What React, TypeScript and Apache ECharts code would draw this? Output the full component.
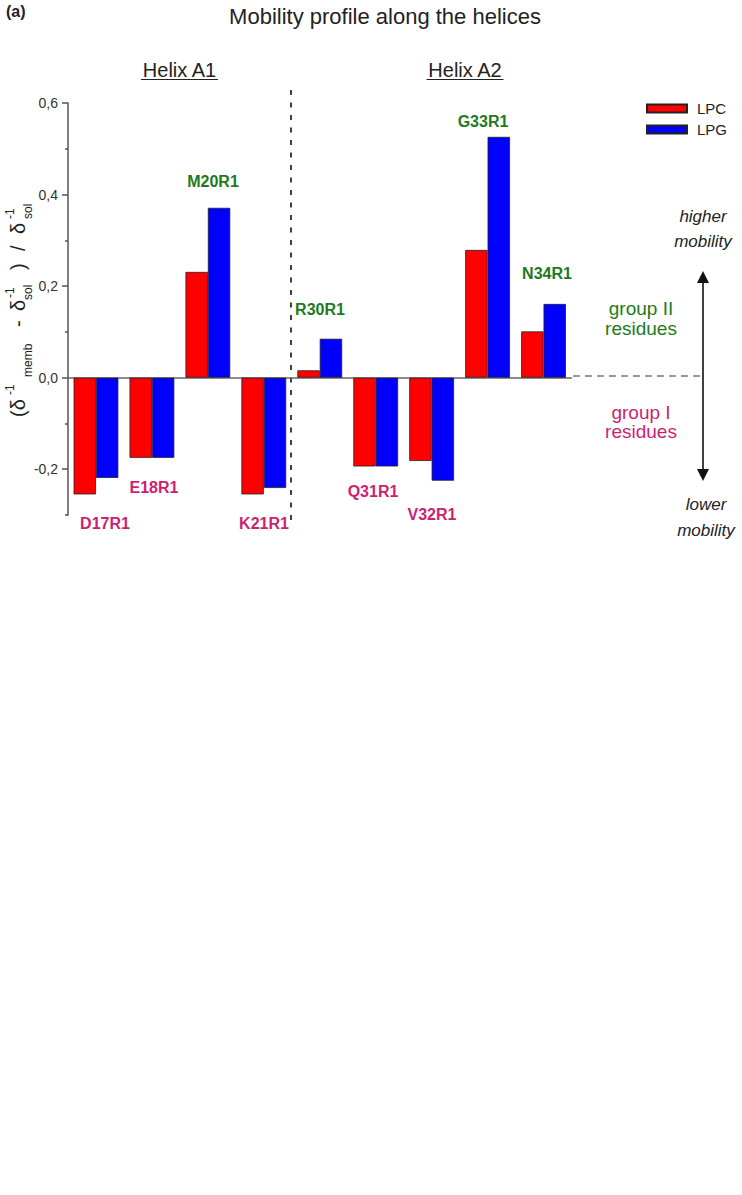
import React, { useEffect, useRef } from "react";
import * as echarts from "echarts";

const categories = ["D17R1", "E18R1", "M20R1", "K21R1", "R30R1", "Q31R1", "V32R1", "G33R1", "N34R1"];
const lpc = [-0.255, -0.175, 0.231, -0.255, 0.016, -0.194, -0.182, 0.279, 0.101];
const lpg = [-0.219, -0.175, 0.371, -0.241, 0.085, -0.194, -0.225, 0.526, 0.161];
const majorTicks = [-0.2, 0, 0.2, 0.4, 0.6];
const minorTicks = [-0.3, -0.1, 0.1, 0.3, 0.5];
const groupOf = ["I", "I", "II", "I", "II", "I", "I", "II", "II"];

const FONT = "'Liberation Sans', Arial, sans-serif";
const GREEN = "#1d7a1d";
const MAGENTA = "#cc1f73";

// annotation positions for residue labels (px)
const labelPos: [number, number][] = [
  [105, 523], [154, 487], [213, 181], [264, 523], [320, 309],
  [373, 491], [432, 514], [483, 121], [547, 273],
];

export default function App() {
  const ref = useRef<HTMLDivElement>(null);
  useEffect(() => {
    if (!ref.current) return;
    const chart = echarts.init(ref.current, null, { renderer: "svg" });

    const residueTexts = categories.map((c, i) => ({
      type: "text",
      x: labelPos[i][0],
      y: labelPos[i][1],
      style: {
        text: c,
        fill: groupOf[i] === "II" ? GREEN : MAGENTA,
        font: `bold 16px ${FONT}`,
        align: "center",
        verticalAlign: "middle",
      },
    }));

    const sup = 10, sub = 28, main = 18;
    const yTitle = {
      type: "group",
      x: 0,
      y: 417,
      rotation: Math.PI / 2,
      children: [
        { t: "(δ", x: 0, y: main, f: 20 },
        { t: "-1", x: 22, y: sup, f: 12 },
        { t: "memb", x: 40, y: sub, f: 12 },
        { t: "-", x: 90, y: main, f: 20 },
        { t: "δ", x: 106, y: main, f: 20 },
        { t: "-1", x: 119, y: sup, f: 12 },
        { t: "sol", x: 117, y: sub, f: 12 },
        { t: ")", x: 147, y: main, f: 20 },
        { t: "/", x: 166, y: main, f: 20 },
        { t: "δ", x: 183, y: main, f: 20 },
        { t: "-1", x: 198, y: sup, f: 12 },
        { t: "sol", x: 198, y: sub, f: 12 },
      ].map((p) => ({
        type: "text",
        x: p.x,
        y: p.y,
        style: {
          text: p.t,
          fill: "#222",
          font: `${p.f}px ${FONT}`,
          align: "left",
          verticalAlign: "middle",
        },
      })),
    };

    const t = (text: string, x: number, y: number, font: string, fill = "#222") => ({
      type: "text",
      x,
      y,
      style: { text, fill, font, align: "center", verticalAlign: "middle" },
    });

    chart.setOption({
      animation: false,
      title: {
        text: "Mobility profile along the helices",
        left: 380,
        textAlign: "center",
        top: 0,
        textStyle: { fontFamily: FONT, fontSize: 22, fontWeight: "normal", color: "#222" },
      },
      legend: {
        data: ["LPC", "LPG"],
        orient: "vertical",
        left: 641,
        top: 96,
        itemWidth: 40,
        itemHeight: 8,
        itemGap: 6,
        icon: "rect",
        textStyle: { fontFamily: FONT, fontSize: 15, color: "#222", padding: [0, 0, 0, 5] },
      },
      grid: { left: 68, right: 170.5, top: 103, bottom: 680 },
      xAxis: {
        type: "category",
        data: categories,
        axisLine: { onZero: true, lineStyle: { color: "#666", width: 1.5 } },
        axisTick: { show: false },
        axisLabel: { show: false },
        splitLine: { show: false },
      },
      yAxis: [
        {
          type: "value",
          min: -0.3,
          max: 0.6,
          interval: 0.1,
          axisLine: { show: true, onZero: false, lineStyle: { color: "#555", width: 1.5 } },
          axisTick: { show: true, length: 6, customValues: majorTicks, lineStyle: { color: "#555", width: 1.5 } },
          axisLabel: {
            customValues: majorTicks,
            margin: 10,
            fontFamily: FONT,
            fontSize: 14,
            color: "#333",
            formatter: (v: number) => v.toFixed(1).replace(".", ","),
          },
          splitLine: { show: false },
        },
        {
          type: "value",
          min: -0.3,
          max: 0.6,
          interval: 0.1,
          position: "left",
          axisLine: { show: false },
          axisTick: { show: true, length: 3, customValues: minorTicks, lineStyle: { color: "#555", width: 1.5 } },
          axisLabel: { show: false },
          splitLine: { show: false },
        },
      ],
      series: [
        {
          name: "LPC",
          type: "bar",
          data: lpc,
          barWidth: "40%",
          barGap: "0%",
          itemStyle: { color: "#ff0000", borderColor: "#222", borderWidth: 0.8 },
        },
        {
          name: "LPG",
          type: "bar",
          data: lpg,
          barWidth: "40%",
          barGap: "0%",
          itemStyle: { color: "#0000ff", borderColor: "#222", borderWidth: 0.8 },
        },
      ],
      graphic: [
        {
          type: "text",
          x: 6,
          y: 11,
          style: { text: "(a)", fill: "#222", font: `bold 16px ${FONT}`, align: "left", verticalAlign: "middle" },
        },
        t("Helix A1", 179.5, 70, `20px ${FONT}`),
        { type: "line", shape: { x1: 141, y1: 79.5, x2: 218, y2: 79.5 }, style: { stroke: "#222", lineWidth: 1.2 } },
        t("Helix A2", 465, 70, `20px ${FONT}`),
        { type: "line", shape: { x1: 426.5, y1: 79.5, x2: 503.5, y2: 79.5 }, style: { stroke: "#222", lineWidth: 1.2 } },
        {
          type: "line",
          shape: { x1: 291, y1: 90, x2: 291, y2: 525 },
          style: { stroke: "#111", lineWidth: 1.6, lineDash: [5, 7.5] },
        },
        {
          type: "line",
          shape: { x1: 573, y1: 376, x2: 703, y2: 376 },
          style: { stroke: "#777", lineWidth: 1.6, lineDash: [7, 5] },
        },
        { type: "line", shape: { x1: 703, y1: 280, x2: 703, y2: 472 }, style: { stroke: "#111", lineWidth: 1.6 } },
        { type: "polygon", shape: { points: [[703, 271], [697, 283], [709, 283]] }, style: { fill: "#111" } },
        { type: "polygon", shape: { points: [[703, 481], [697, 469], [709, 469]] }, style: { fill: "#111" } },
        t("higher", 703, 216, `italic 17px ${FONT}`),
        t("mobility", 703, 241, `italic 17px ${FONT}`),
        t("lower", 706, 504, `italic 17px ${FONT}`),
        t("mobility", 706, 530, `italic 17px ${FONT}`),
        t("group II", 641, 308, `19px ${FONT}`, GREEN),
        t("residues", 641, 328, `19px ${FONT}`, GREEN),
        t("group I", 641, 412, `19px ${FONT}`, MAGENTA),
        t("residues", 641, 431, `19px ${FONT}`, MAGENTA),
        yTitle,
        ...residueTexts,
      ],
    });
    return () => chart.dispose();
  }, []);
  return <div ref={ref} style={{ position: "absolute", left: 0, top: 0, width: 742, height: 1195 }} />;
}
